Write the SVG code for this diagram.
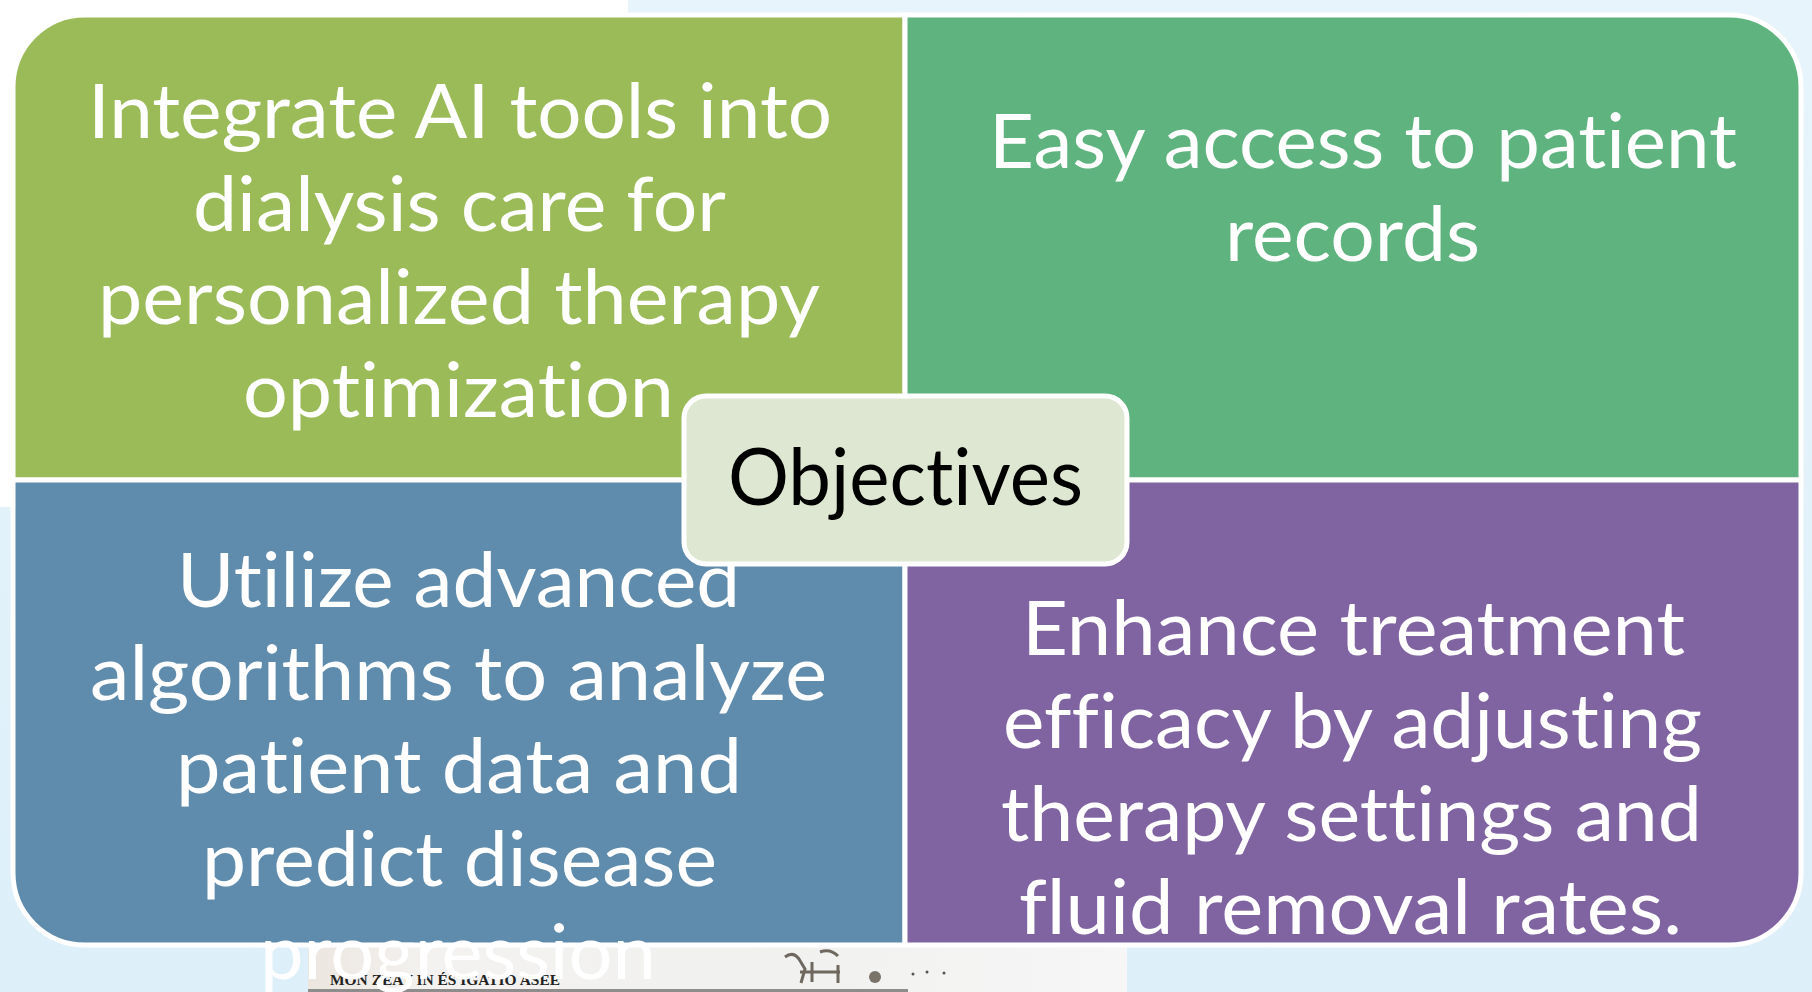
<svg xmlns="http://www.w3.org/2000/svg" width="1812" height="992" viewBox="0 0 1812 992">
<defs>
<linearGradient id="bg" x1="0" y1="0" x2="0" y2="1">
<stop offset="0" stop-color="#e7f4fc"/>
<stop offset="1" stop-color="#ddeff9"/>
</linearGradient>
<linearGradient id="scan" x1="0" y1="0" x2="1" y2="0">
<stop offset="0" stop-color="#ece6df"/>
<stop offset="0.15" stop-color="#f3f2f0"/>
<stop offset="0.6" stop-color="#f1f1f0"/>
<stop offset="1" stop-color="#f6f6f6"/>
</linearGradient>
</defs>
<style>
.quad{stroke:#ffffff;stroke-width:5;stroke-linejoin:miter}
.t{font-family:Lato,"Open Sans","Liberation Sans",sans-serif;font-size:76px;fill:#ffffff;font-variant-ligatures:none;font-feature-settings:"liga" 0,"clig" 0,"dlig" 0}
.c{font-family:Lato,"Open Sans","Liberation Sans",sans-serif;font-size:79px;fill:#000000;font-variant-ligatures:none;font-feature-settings:"liga" 0,"clig" 0}
</style>
<rect x="0" y="0" width="1812" height="992" fill="url(#bg)"/>
<rect x="0" y="0" width="628" height="507" fill="#ffffff"/>

<g id="scanned-strip">
<rect x="308" y="947" width="819" height="45" fill="url(#scan)"/>
<rect x="308" y="989" width="600" height="3" fill="#8d8d8d"/>
<text x="330" y="985" font-family="'Liberation Serif',serif" font-weight="bold" font-size="14" fill="#222" textLength="230" lengthAdjust="spacingAndGlyphs">MON ZEAY IN ÉS IGATIO ASEE</text>
<path d="M785 957 q8 -6 14 2 l6 10 l-4 14 M800 972 h40 M812 962 v20 M838 965 v18 M820 952 q10 -4 18 4" fill="none" stroke="#6f685f" stroke-width="3"/>
<circle cx="875" cy="977" r="6" fill="#7a736a"/>
<circle cx="913" cy="974" r="1.5" fill="#555"/>
<circle cx="927" cy="972" r="1.5" fill="#555"/>
<circle cx="944" cy="973" r="1.5" fill="#555"/>
</g>

<g id="node-top-left">
<path class="quad" d="M85 15 H905 V480 H13 V87 A72 72 0 0 1 85 15 Z" fill="#9bbb59"/>
<text class="t" x="88" y="138" textLength="744" lengthAdjust="spacingAndGlyphs">Integrate AI tools into</text>
<text class="t" x="193" y="231" textLength="533" lengthAdjust="spacingAndGlyphs">dialysis care for</text>
<text class="t" x="98" y="324" textLength="722" lengthAdjust="spacingAndGlyphs">personalized therapy</text>
<text class="t" x="243" y="417" textLength="431" lengthAdjust="spacingAndGlyphs">optimization</text>
</g>

<g id="node-top-right">
<path class="quad" d="M905 15 H1729 A72 72 0 0 1 1801 87 V480 H905 Z" fill="#5eb37e"/>
<text class="t" x="989" y="168" textLength="748" lengthAdjust="spacingAndGlyphs">Easy access to patient</text>
<text class="t" x="1225" y="261" textLength="255" lengthAdjust="spacingAndGlyphs">records</text>
</g>

<g id="node-bottom-left">
<path class="quad" d="M13 480 H905 V945 H85 A72 72 0 0 1 13 873 Z" fill="#5f8cac"/>
<text class="t" x="177" y="607" textLength="563" lengthAdjust="spacingAndGlyphs">Utilize advanced</text>
<text class="t" x="90" y="700" textLength="737" lengthAdjust="spacingAndGlyphs">algorithms to analyze</text>
<text class="t" x="176" y="793" textLength="566" lengthAdjust="spacingAndGlyphs">patient data and</text>
<text class="t" x="202" y="886" textLength="515" lengthAdjust="spacingAndGlyphs">predict disease</text>
<text class="t" x="260" y="979" textLength="396" lengthAdjust="spacingAndGlyphs">progression</text>
</g>

<g id="node-bottom-right">
<path class="quad" d="M905 480 H1801 V873 A72 72 0 0 1 1729 945 H905 Z" fill="#8064a2"/>
<text class="t" x="1022" y="655" textLength="663" lengthAdjust="spacingAndGlyphs">Enhance treatment</text>
<text class="t" x="1003" y="748" textLength="699" lengthAdjust="spacingAndGlyphs">efficacy by adjusting</text>
<text class="t" x="1001" y="841" textLength="701" lengthAdjust="spacingAndGlyphs">therapy settings and</text>
<text class="t" x="1019" y="934" textLength="663" lengthAdjust="spacingAndGlyphs">fluid removal rates.</text>
</g>

<g id="connectors"></g>

<g id="node-center">
<rect x="684" y="396" width="443" height="168" rx="22" ry="22" fill="#dee7d1" stroke="#ffffff" stroke-width="5"/>
<text class="c" x="728" y="505" textLength="355" lengthAdjust="spacingAndGlyphs">Objectives</text>
</g>
</svg>
